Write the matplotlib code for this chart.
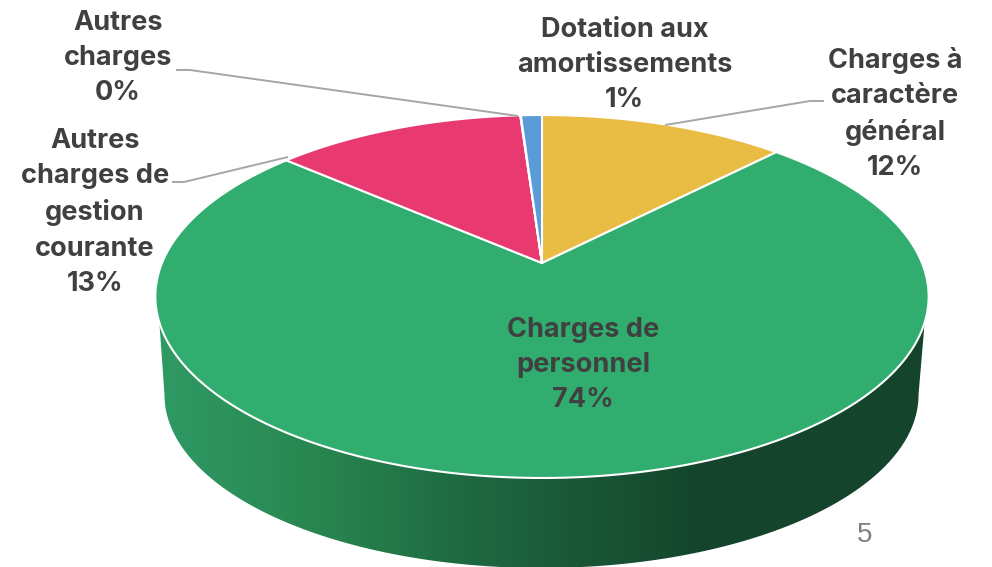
import numpy as np
import matplotlib
matplotlib.use('Agg')
import matplotlib.pyplot as plt
from matplotlib.colors import LinearSegmentedColormap
from matplotlib.patches import Polygon

plt.rcParams['font.family'] = ['Inter', 'DejaVu Sans']

# Data, clockwise from the top of the pie
categories = ['Charges à\ncaractère\ngénéral', 'Charges de\npersonnel',
              'Autres\ncharges de\ngestion\ncourante', 'Autres\ncharges',
              'Dotation aux\namortissements']
values = [12.3, 74.1, 12.52, 0.03, 1.05]
colors = ['#E9BD44', '#31AD70', '#E83A70', '#A5A5A5', '#5B9BD8']
label_xy = [(895, 114), (583, 365), (95, 212.5), (118, 58), (624.5, 65)]
# leader lines, in pixels of the picture
leaders = [None, None,
           [(172, 182), (184, 182), (288, 157)],
           [(176, 70), (190, 70), (518, 116)],
           None]
leader_char = [(824, 101), (810, 101), (665, 125)]

# Pie geometry: a tilted disc, seen in perspective
CX, CY = 542, 263
A, B, K = 380.0, 175.3, 0.1846


def project(frac):
    # frac is the fraction of the turn, clockwise from the top
    t = 2 * np.pi * np.asarray(frac)
    x, y = np.sin(t), np.cos(t)
    d = 1 + K * y
    return CX + A * x / d, CY - B * y / d


fig = plt.figure(figsize=(9.92, 5.67), dpi=100)
ax = fig.add_axes([0, 0, 1, 1])

# Side of the disc, with its shading left to right
cmap = LinearSegmentedColormap.from_list('side', [
    (0.0, '#2F9A65'), (0.31, '#28854F'), (0.54, '#1F6C43'),
    (0.72, '#1B5C3A'), (1.0, '#14452C')])
X0, X1 = 156, 700
grad = np.linspace(0, 1, 256).reshape(1, -1)
im = ax.imshow(grad, cmap=cmap, extent=(X0, X1, 0, 569), aspect='auto', zorder=1)
im2 = ax.imshow(np.ones((1, 2)), cmap=cmap, vmin=0, vmax=1, extent=(X1 - 1, 935, 0, 569),
                aspect='auto', zorder=1)

low_ang = np.linspace(0, np.pi, 200)
low_x = 541.5 - 377 * np.cos(low_ang)
low_y = 395 + 173 * np.sin(low_ang)
fr = np.linspace(0.25, 0.75, 300)
top_x, top_y = project(fr)
keep = top_y >= 322
side_xy = np.vstack([np.column_stack([low_x, low_y]),
                     np.column_stack([top_x[keep], top_y[keep]])])
side = Polygon(side_xy, closed=True, transform=ax.transData, fc='none', ec='none')
ax.add_patch(side)
im.set_clip_path(side)
im2.set_clip_path(side)

# Top face
total = sum(values)
cum = np.cumsum([0] + values) / total
for i, c in enumerate(colors):
    fr = np.linspace(cum[i], cum[i + 1], 200)
    x, y = project(fr)
    xy = np.vstack([[CX, CY], np.column_stack([x, y])])
    ax.add_patch(Polygon(xy, closed=True, fc=c, ec='white', lw=1.5, joinstyle='round', zorder=2))

# Leader lines
for pts in leaders + [leader_char]:
    if pts is None:
        continue
    pts = np.array(pts)
    ax.plot(pts[:, 0], pts[:, 1], color='#A6A6A6', lw=1.4, zorder=3, solid_capstyle='butt')

# Labels
for name, v, (lx, ly) in zip(categories, values, label_xy):
    ax.text(lx, ly, f'{name}\n{round(v / total * 100):.0f}%', ha='center', va='center',
            fontsize=19.5, fontweight='bold', color='#404040', linespacing=1.47, zorder=4)

# Slide number
ax.text(865, 534.5, '5', ha='center', va='center', fontsize=20, color='#7F7F7F',
        family='Liberation Sans', zorder=4)

ax.set_xlim(0, 992)
ax.set_ylim(567, 0)
ax.set_axis_off()
fig.savefig('out.png', dpi=100, facecolor='white')
